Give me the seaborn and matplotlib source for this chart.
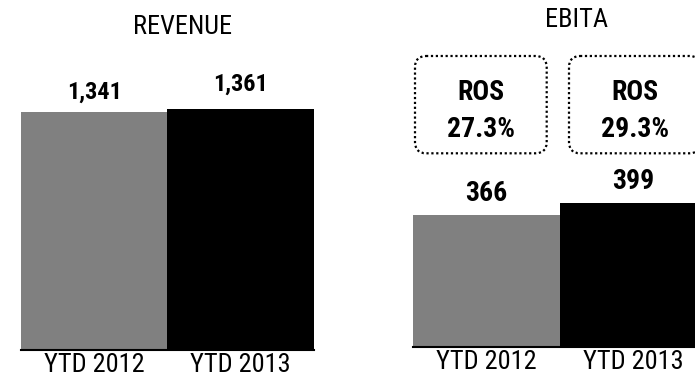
import matplotlib
matplotlib.use("Agg")
import matplotlib.pyplot as plt
from matplotlib import font_manager
from matplotlib.patches import FancyBboxPatch
import seaborn as sns

# Values
periods = ["YTD 2012", "YTD 2013"]
revenue = [1341, 1361]
ebita = [366, 399]
titles = ["REVENUE", "EBITA"]
bar_colors = ["#808080", "#000000"]

sns.set_theme(style="white")

# Pick a narrow sans family that has both a regular and a bold face
weights = {}
for f in font_manager.fontManager.ttflist:
    if f.style == "normal":
        w = f.weight if isinstance(f.weight, int) else 400
        weights.setdefault(f.name, set()).add(w)
narrow = "Liberation Sans"
for name in ["Liberation Sans Narrow", "Arial Narrow", "Roboto Condensed",
             "IBM Plex Sans Condensed", "Fira Sans Condensed", "Archivo Narrow"]:
    ws = weights.get(name, set())
    if 400 in ws and any(w >= 700 for w in ws):
        narrow = name
        break
k = 0.82 if narrow == "Liberation Sans" else 1.0
plt.rcParams["font.family"] = [narrow, "DejaVu Sans"]

W, H = 695, 379
fig = plt.figure(figsize=(W / 100, H / 100), dpi=100)


def px_axes(left, right, base, top):
    return fig.add_axes([left / W, (H - base) / H, (right - left) / W, (base - top) / H])


ax_rev = px_axes(21, 313.5, 350, 10)
ax_ebi = px_axes(412.7, 706.7, 346.5, 10)


def draw_panel(ax, values, ymax, pads, label_size):
    sns.barplot(x=periods, y=values, hue=periods, palette=bar_colors, saturation=1,
                width=1.0, linewidth=0, legend=False, ax=ax)
    ax.set_xlim(-0.5, 1.5)
    ax.set_ylim(0, ymax)
    for cont, pad in zip(ax.containers, pads):
        ax.bar_label(cont, labels=[f"{int(v):,}" for v in cont.datavalues], padding=pad,
                     fontsize=label_size * k, fontweight="bold", color="black")
    for side in ["top", "left", "right"]:
        ax.spines[side].set_visible(False)
    ax.spines["bottom"].set_color("black")
    ax.spines["bottom"].set_linewidth(1.5)
    ax.set_yticks([])
    ax.set_xlabel("")
    ax.set_ylabel("")
    ax.tick_params(axis="x", length=0, pad=2.5, labelsize=19 * k, labelcolor="black")
    ax.set_facecolor("none")


draw_panel(ax_rev, revenue, 1918, [6.5, 9.5], 17.5)
draw_panel(ax_ebi, ebita, 938.6, [6.0, 6.0], 20)

# Overlay in pixel units for titles and ROS callouts
ov = fig.add_axes([0, 0, 1, 1], zorder=5)
ov.set_xlim(0, W)
ov.set_ylim(H, 0)
ov.axis("off")
ov.patch.set_alpha(0)

ov.text(183, 34, titles[0], ha="center", va="baseline", fontsize=19 * k, color="black")
ov.text(576.7, 26.7, titles[1], ha="center", va="baseline", fontsize=19 * k, color="black")

box_lefts = [415, 569]
box_w, box_top, box_h = 131.7, 56, 97.3
for bx, e, r in zip(box_lefts, ebita, revenue):
    box = FancyBboxPatch((bx, box_top), box_w, box_h,
                         boxstyle="round,pad=0,rounding_size=11",
                         facecolor="white", edgecolor="black", linewidth=1.6,
                         linestyle=(0, (1, 1.2)))
    ov.add_patch(box)
    cx = bx + box_w / 2
    ov.text(cx, 100, "ROS", ha="center", va="baseline", fontsize=20 * k,
            fontweight="bold", color="black")
    ov.text(cx, 136.7, f"{e / r:.1%}", ha="center", va="baseline", fontsize=20 * k,
            fontweight="bold", color="black")

fig.savefig("out.png", dpi=100, facecolor="white")
